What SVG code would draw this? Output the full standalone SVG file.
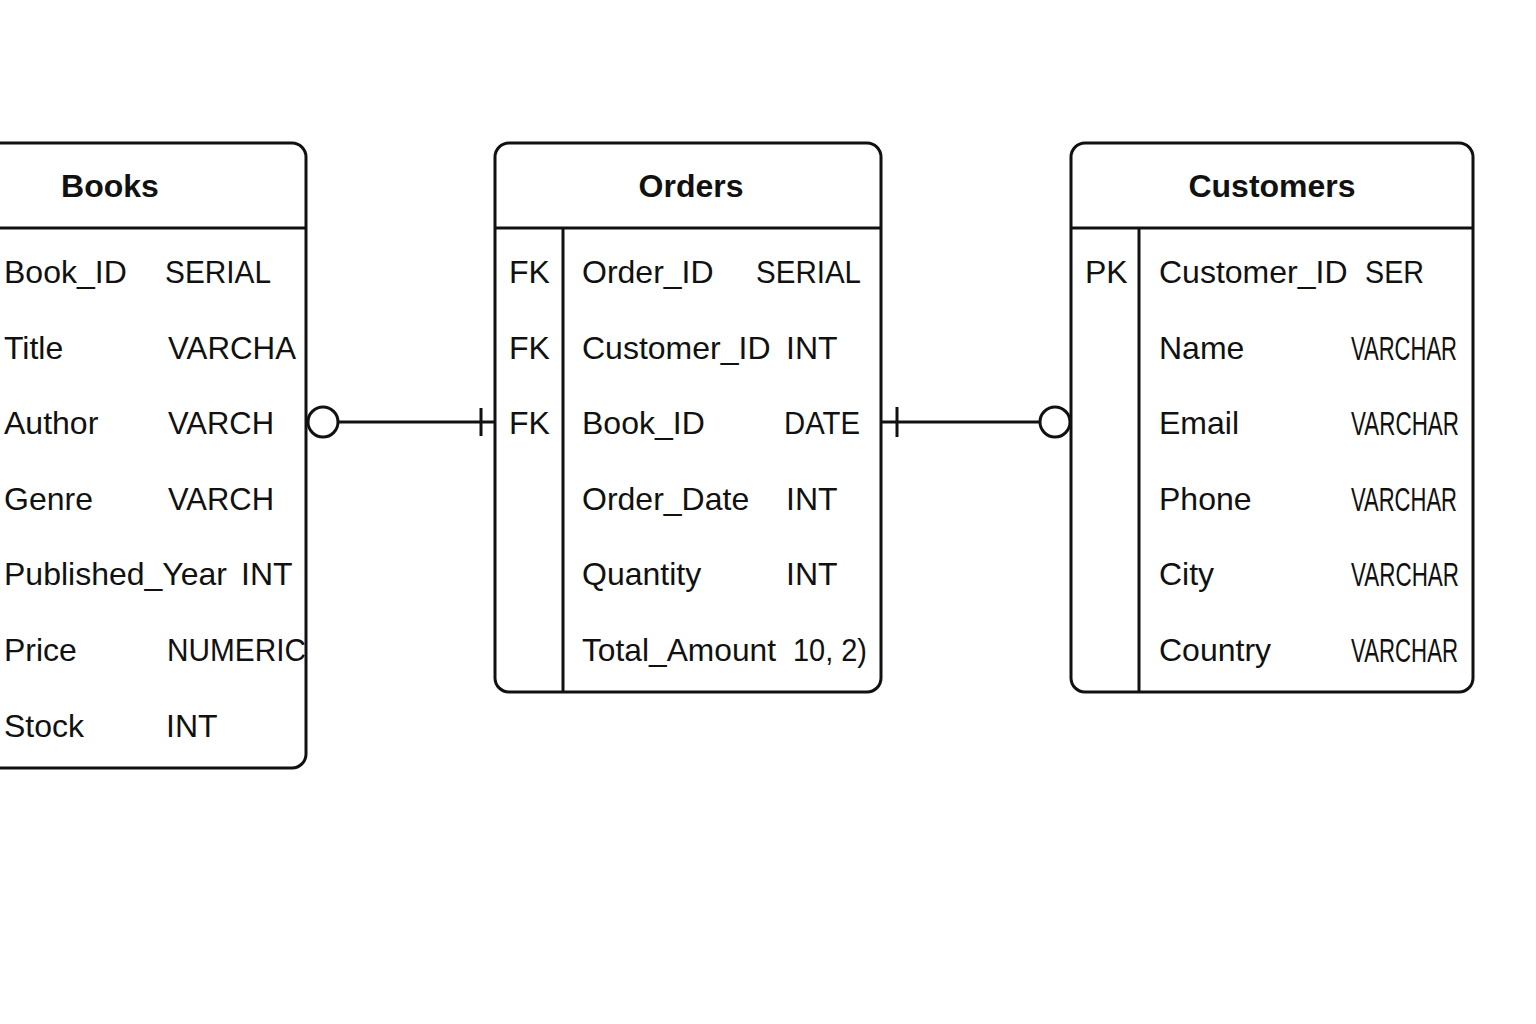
<svg xmlns="http://www.w3.org/2000/svg" width="1536" height="1024" viewBox="0 0 1536 1024">
<style>
.box{fill:#fff;stroke:#111;stroke-width:3}
.ln{stroke:#111;stroke-width:3;fill:none}
.t{font-family:"Liberation Sans",Arial,sans-serif;font-size:32px;fill:#111}
.h{font-family:"Liberation Sans",Arial,sans-serif;font-size:32px;font-weight:bold;fill:#111;text-anchor:middle}
.v{font-family:"Liberation Sans Narrow","Liberation Sans",Arial,sans-serif;font-size:34px;fill:#111}
</style>
<rect width="1536" height="1024" fill="#fff"/>
<g id="connectors">
  <line class="ln" x1="338" y1="422" x2="495" y2="422"/>
  <circle class="ln" cx="323" cy="422" r="15"/>
  <line class="ln" x1="481" y1="408" x2="481" y2="436"/>
  <line class="ln" x1="881" y1="422" x2="1040" y2="422"/>
  <line class="ln" x1="897" y1="407" x2="897" y2="437"/>
  <circle class="ln" cx="1055" cy="422" r="15"/>
</g>
<g id="books">
  <rect class="box" x="-30" y="143" width="336" height="625" rx="14"/>
  <line class="ln" x1="-30" y1="228" x2="306" y2="228"/>
  <text class="h" x="110" y="197">Books</text>
  <text class="t" x="4" y="283">Book_ID</text><text class="t" x="165" y="283" textLength="106" lengthAdjust="spacingAndGlyphs">SERIAL</text>
  <text class="t" x="4" y="359">Title</text><text class="t" x="168" y="359" textLength="128" lengthAdjust="spacingAndGlyphs">VARCHA</text>
  <text class="t" x="4" y="434">Author</text><text class="t" x="168" y="434" textLength="106" lengthAdjust="spacingAndGlyphs">VARCH</text>
  <text class="t" x="4" y="510">Genre</text><text class="t" x="168" y="510" textLength="106" lengthAdjust="spacingAndGlyphs">VARCH</text>
  <text class="t" x="4" y="585">Published_Year</text><text class="t" x="241" y="585">INT</text>
  <text class="t" x="4" y="661">Price</text><text class="t" x="167" y="661" textLength="139" lengthAdjust="spacingAndGlyphs">NUMERIC</text>
  <text class="t" x="4" y="737">Stock</text><text class="t" x="166" y="737">INT</text>
</g>
<g id="orders">
  <rect class="box" x="495" y="143" width="386" height="549" rx="14"/>
  <line class="ln" x1="495" y1="228" x2="881" y2="228"/>
  <line class="ln" x1="563" y1="228" x2="563" y2="692"/>
  <text class="h" x="691" y="197">Orders</text>
  <text class="t" x="509" y="283">FK</text>
  <text class="t" x="509" y="359">FK</text>
  <text class="t" x="509" y="434">FK</text>
  <text class="t" x="582" y="283">Order_ID</text><text class="t" x="756" y="283" textLength="105" lengthAdjust="spacingAndGlyphs">SERIAL</text>
  <text class="t" x="582" y="359">Customer_ID</text><text class="t" x="786" y="359">INT</text>
  <text class="t" x="582" y="434">Book_ID</text><text class="t" x="784" y="434" textLength="76" lengthAdjust="spacingAndGlyphs">DATE</text>
  <text class="t" x="582" y="510">Order_Date</text><text class="t" x="786" y="510">INT</text>
  <text class="t" x="582" y="585">Quantity</text><text class="t" x="786" y="585">INT</text>
  <text class="t" x="582" y="661" textLength="194" lengthAdjust="spacingAndGlyphs">Total_Amount</text><text class="t" x="793" y="661" textLength="74" lengthAdjust="spacingAndGlyphs">10, 2)</text>
</g>
<g id="customers">
  <rect class="box" x="1071" y="143" width="402" height="549" rx="14"/>
  <line class="ln" x1="1071" y1="228" x2="1473" y2="228"/>
  <line class="ln" x1="1139" y1="228" x2="1139" y2="692"/>
  <text class="h" x="1272" y="197">Customers</text>
  <text class="t" x="1085" y="283">PK</text>
  <text class="t" x="1159" y="283">Customer_ID</text><text class="t" x="1365" y="283" textLength="59" lengthAdjust="spacingAndGlyphs">SER</text>
  <text class="t" x="1159" y="359">Name</text><text class="v" x="1351" y="360" textLength="106" lengthAdjust="spacingAndGlyphs">VARCHAR</text>
  <text class="t" x="1159" y="434">Email</text><text class="v" x="1351" y="435" textLength="108" lengthAdjust="spacingAndGlyphs">VARCHAR</text>
  <text class="t" x="1159" y="510">Phone</text><text class="v" x="1351" y="511" textLength="106" lengthAdjust="spacingAndGlyphs">VARCHAR</text>
  <text class="t" x="1159" y="585">City</text><text class="v" x="1351" y="586" textLength="108" lengthAdjust="spacingAndGlyphs">VARCHAR</text>
  <text class="t" x="1159" y="661">Country</text><text class="v" x="1351" y="662" textLength="107" lengthAdjust="spacingAndGlyphs">VARCHAR</text>
</g>
</svg>
